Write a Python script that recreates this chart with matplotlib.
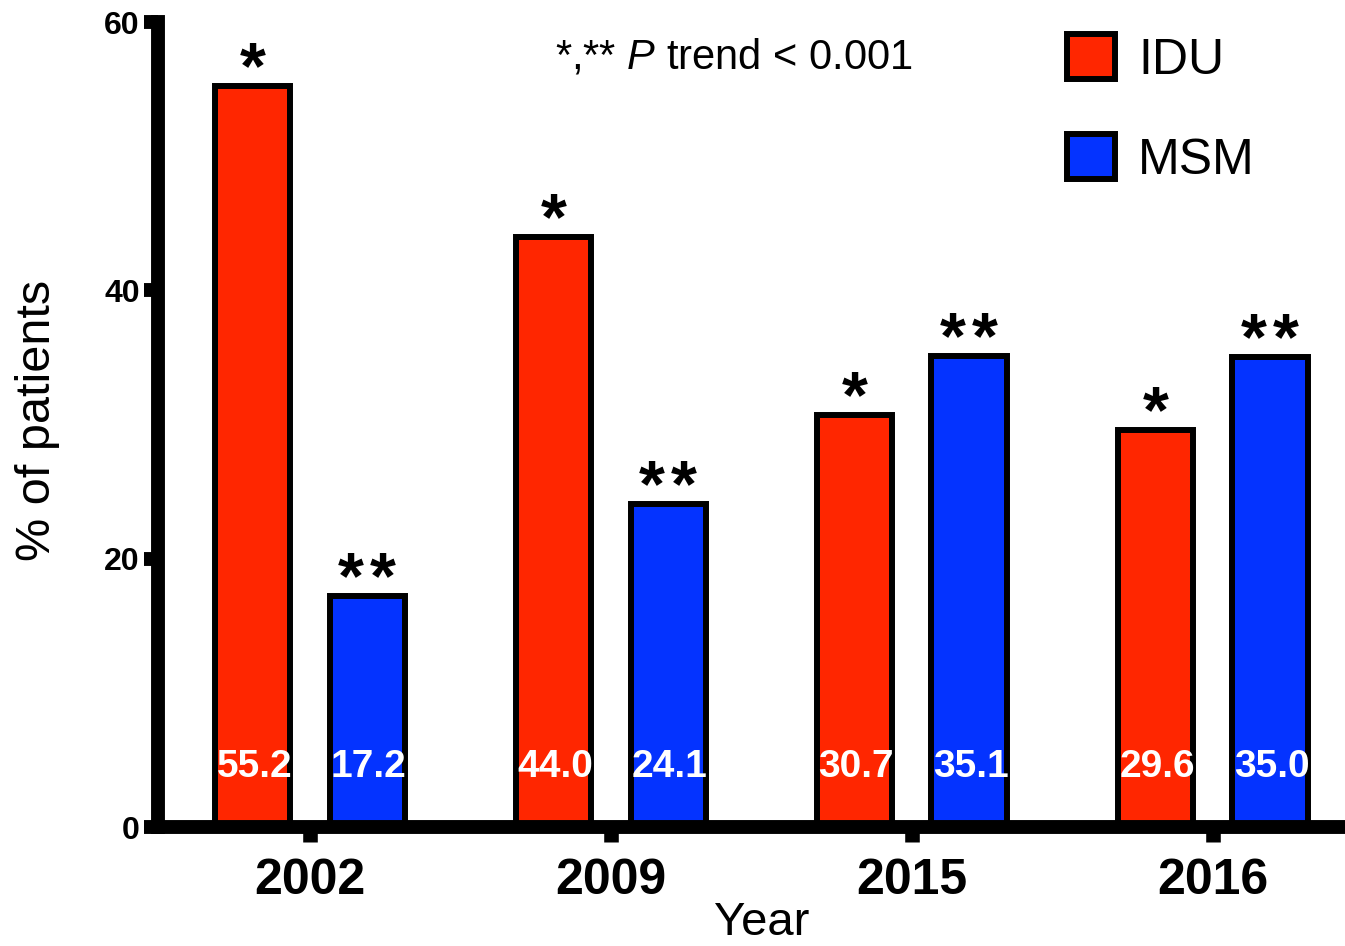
import matplotlib
matplotlib.use('Agg')
import matplotlib.pyplot as plt
import numpy as np

plt.rcParams['font.family'] = ['Liberation Sans', 'DejaVu Sans']
plt.rcParams['mathtext.fontset'] = 'custom'
plt.rcParams['mathtext.rm'] = 'Liberation Sans'
plt.rcParams['mathtext.it'] = 'Liberation Sans:italic'

years = ['2002', '2009', '2015', '2016']
idu = [55.2, 44.0, 30.7, 29.6]
msm = [17.2, 24.1, 35.1, 35.0]
idu_marks = ['*', '*', '*', '*']
msm_marks = ['**', '**', '**', '**']

red = '#FF2600'
blue = '#0433FF'

fig = plt.figure(figsize=(13.45, 9.46), dpi=100)
ax = fig.add_axes([158 / 1345, 119 / 946, 1 - 158 / 1345, 805 / 946])

x = np.arange(len(years))
off = 0.19
w = 0.25
b1 = ax.bar(x - off, idu, w, color=red, edgecolor='black', linewidth=4.3, label='IDU', zorder=2)
b2 = ax.bar(x + off, msm, w, color=blue, edgecolor='black', linewidth=4.3, label='MSM', zorder=2)


def label_bars(xs, vals, marks):
    for xi, v, s in zip(xs, vals, marks):
        ax.text(xi + 0.005, 4.5, f'{v:.1f}', color='white', fontsize=28, fontweight='bold',
                ha='center', va='center', zorder=3)
        # one text per star so they sit apart like the original
        n = len(s)
        for i in range(n):
            dx = (i - (n - 1) / 2) * 23
            ax.annotate('*', (xi, v), xytext=(dx, -1.5), textcoords='offset points',
                        ha='center', va='baseline', fontsize=48, fontweight='bold')


label_bars(x - off, idu, idu_marks)
label_bars(x + off, msm, msm_marks)

ax.set_xlim(-0.505, 3.439)
ax.set_ylim(0, 60)
ax.set_yticks([0, 20, 40, 60])
ax.set_xticks(x)
ax.set_xticklabels(years)

for side in ['top', 'right']:
    ax.spines[side].set_visible(False)
for side in ['left', 'bottom']:
    ax.spines[side].set_linewidth(10)
    ax.spines[side].set_capstyle('projecting')
    ax.spines[side].set_zorder(4)

ax.tick_params(axis='y', length=10, width=10, pad=3, labelsize=23)
ax.tick_params(axis='x', length=11, width=10.5, pad=11, labelsize=36)
for lab in ax.get_yticklabels() + ax.get_xticklabels():
    lab.set_fontweight('bold')

fig.text(38 / 1345, 1 - 420 / 946, '% of patients', rotation=90, fontsize=35,
         ha='center', va='center')
fig.text(762 / 1345, 1 - 935 / 946, 'Year', fontsize=34, ha='center', va='baseline')
fig.text(555 / 1345, 1 - 57 / 946, r'*,** $\mathit{P}$ trend < 0.001', fontsize=30,
         ha='left', va='center')

ax.legend(handles=[b1, b2], loc='upper left', bbox_to_anchor=(1067 / 1345, 1 - 34 / 946),
          bbox_transform=fig.transFigure, frameon=False, fontsize=36, borderpad=0,
          borderaxespad=0, handlelength=0.96, handleheight=1.0, handletextpad=0.46,
          labelspacing=1.02)

fig.savefig('out.png', dpi=100)
